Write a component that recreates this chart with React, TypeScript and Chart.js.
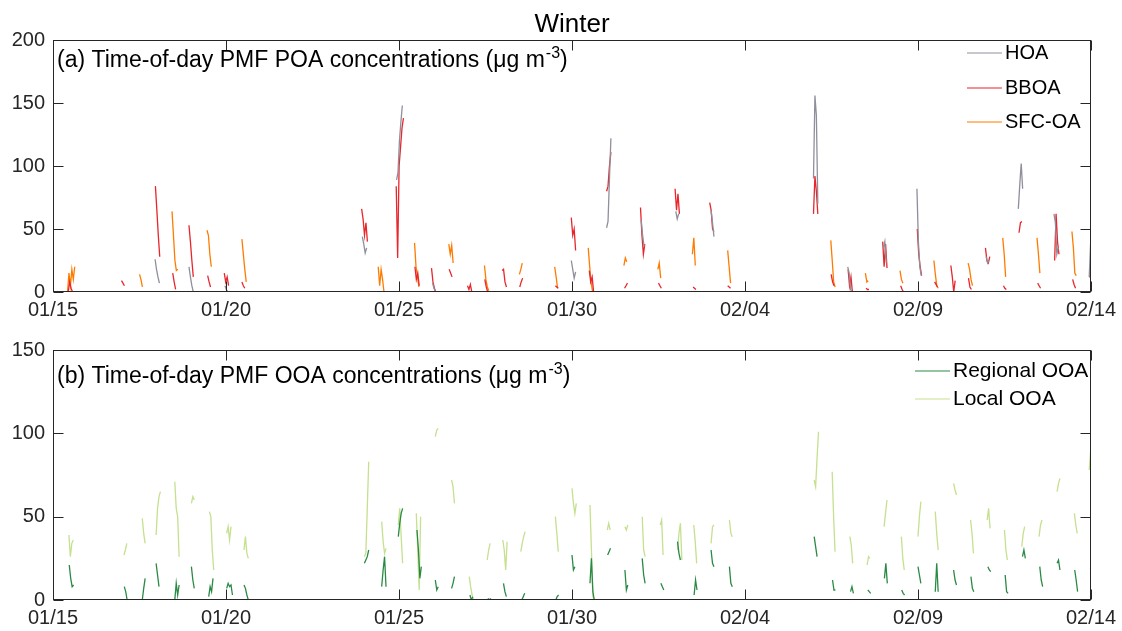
import { useEffect, useRef } from 'react';
import { Chart, registerables } from 'chart.js';

Chart.register(...registerables);

// x axis: days since 01/15, one tick every 5 days
const DATE_LABELS = ['01/15', '01/20', '01/25', '01/30', '02/04', '02/09', '02/14'];
const HOUR = 1 / 24;

// each segment: [start day, hourly values...]
const HOA = [
  [2.95, 26, 18, 12, 7], [3.93, 20, 12, 5, 0], [4.97, 5, 2, 0], [8.94, 44, 38, 31, 35],
  [9.93, 89, 95, 120, 135, 148], [10.97, 7, 3, 0], [14.98, 25, 18, 11, 16], [16.0, 51, 56, 90, 122],
  [17.0, 57, 45, 36], [18.0, 64, 58, 62], [19.02, 65, 55, 44], [21.98, 90, 156, 140, 70],
  [22.97, 20, 15, 2, 0], [24.0, 35, 40, 23], [24.97, 82, 40, 20, 13], [26.97, 28, 23, 25],
  [27.9, 66, 85, 102, 82], [28.93, 62, 55, 30, 35], [29.95, 12, 40],
];
const BBOA = [
  [0.44, 0, 8, 3, 0], [1.98, 9, 7, 5], [2.96, 84, 65, 45, 28], [3.46, 15, 8, 2], [3.93, 53, 40, 25, 12],
  [4.47, 13, 8, 4], [4.95, 15, 8, 12, 5], [5.46, 8, 5, 3], [8.92, 66, 58, 45, 55, 40],
  [9.92, 84, 27, 100, 115, 130, 138], [10.46, 20, 10, 15, 5], [10.94, 19, 8, 3, 0], [11.45, 18, 15, 12],
  [11.98, 5, 2, 6, 0], [12.48, 10, 4, 0], [12.98, 17, 18, 8, 4], [13.49, 4, 8, 11], [14.52, 5, 4, 3],
  [14.98, 59, 45, 50, 33], [15.5, 17, 8, 12, 0], [16.0, 80, 84, 100, 111], [16.52, 3, 5, 7],
  [16.98, 67, 45, 30, 38], [17.5, 7, 5, 3], [17.98, 82, 65, 78, 62], [18.5, 4, 3, 2],
  [18.98, 71, 65, 50, 48], [19.5, 5, 4, 3], [21.98, 62, 92, 80, 62], [22.49, 14, 8, 5],
  [22.98, 18, 5, 12, 0], [23.5, 3, 2, 2], [23.98, 40, 20, 38, 19], [24.5, 5, 2, 0],
  [24.98, 50, 30, 20, 13], [25.48, 8, 6, 4], [25.95, 21, 12, 0, 9], [26.46, 11, 4, 2],
  [26.95, 35, 25, 23, 28], [27.47, 5, 3, 2], [27.92, 47, 55, 56], [28.46, 7, 5, 3],
  [28.95, 25, 62, 40, 30], [29.47, 10, 6, 3], [29.95, 13, 11],
];
const SFC_OA = [
  [0.42, 0, 15, 5, 18, 10, 20], [2.5, 14, 10, 4], [3.44, 64, 45, 25, 17, 18], [4.45, 49, 45, 30, 20],
  [5.46, 42, 30, 18, 8], [9.4, 20, 5, 18, 10, 0], [10.45, 39, 20, 12, 4], [11.44, 38, 30, 37, 23],
  [12.47, 21, 10, 4, 1], [13.48, 14, 18, 23], [14.5, 20, 12, 3], [15.47, 35, 20, 8, 0],
  [16.5, 21, 27, 24], [17.48, 18, 23, 11], [18.48, 30, 43, 21], [19.5, 33, 20, 7],
  [22.48, 41, 25, 8, 4], [23.48, 15, 8, 9], [24.48, 17, 10, 7], [25.46, 25, 14, 5, 3],
  [26.45, 23, 18, 10, 5], [27.45, 43, 30, 12], [28.44, 43, 30, 15], [29.45, 48, 35, 15, 13],
];
const REGIONAL_OOA = [
  [0.47, 21, 13, 8, 9], [2.06, 8, 5, 0], [2.58, 0, 7, 13], [2.98, 22, 15, 8], [3.52, 0, 10, 3, 9],
  [4.0, 20, 12, 7], [4.5, 2, 8, 5, 13], [5.02, 7, 10, 8, 9, 3], [5.52, 9, 7, 3, 0], [9.0, 22, 24, 26, 30],
  [9.5, 8, 18, 26, 8], [9.98, 38, 46, 52, 55], [10.52, 42, 30, 13, 20], [11.05, 12, 6, 8],
  [11.52, 7, 10, 14], [12.05, 3, 0, 2], [12.57, 1, 0, 1], [13.02, 10, 5, 2], [13.55, 0, 2, 4],
  [14.53, 0, 2, 3], [15.0, 27, 18, 20], [15.52, 10, 25, 5, 0], [16.03, 27, 29, 31], [16.53, 18, 6, 9],
  [17.03, 25, 15, 10], [17.57, 10, 8, 6], [18.05, 35, 28, 24], [18.53, 3, 12, 6], [19.02, 30, 22, 20],
  [19.55, 20, 10, 8], [22.0, 38, 32, 26], [22.53, 12, 6, 6], [23.05, 5, 8, 4], [23.55, 6, 5, 4],
  [24.03, 13, 22, 10], [24.53, 6, 4, 3], [25.0, 20, 15, 10], [25.5, 5, 22, 5], [26.03, 18, 12, 9],
  [26.53, 14, 7, 5], [27.02, 20, 18, 17], [27.52, 15, 5, 4], [28.02, 26, 30, 25], [28.52, 20, 12, 8],
  [29.02, 22, 24, 18], [29.53, 18, 12, 5], [29.97, 19, 19],
];
const LOCAL_OOA = [
  [0.46, 39, 26, 34, 36], [2.05, 27, 30, 34], [2.58, 49, 40, 34], [2.98, 39, 55, 62, 65],
  [3.52, 71, 55, 50, 26], [4.0, 58, 62, 60], [4.52, 53, 50, 30, 18], [5.02, 40, 44, 36, 44],
  [5.52, 30, 38, 28, 25], [9.0, 26, 28, 55, 83], [9.5, 47, 35, 28, 31], [9.98, 45, 55, 38, 22],
  [10.5, 52, 30, 6, 50], [11.05, 98, 102, 103], [11.52, 72, 68, 58], [12.03, 14, 8, 3, 0],
  [12.55, 24, 30, 34], [13.0, 36, 30, 18, 35], [13.52, 29, 34, 38, 41], [14.52, 50, 40, 29],
  [15.0, 67, 58, 52, 58], [15.52, 57, 30, 2, 0], [16.02, 42, 46, 42], [16.53, 44, 42, 45],
  [17.03, 50, 30, 26], [17.55, 45, 48, 27], [18.05, 30, 40, 46, 24], [18.52, 45, 35, 22],
  [19.02, 34, 44, 45], [19.55, 48, 40, 38], [22.0, 72, 68, 85, 101], [22.52, 77, 50, 29],
  [23.03, 38, 33, 22], [23.53, 21, 26, 25], [24.02, 44, 52, 60], [24.52, 38, 25, 18],
  [25.0, 38, 50, 59], [25.5, 53, 40, 30], [26.03, 70, 66, 63], [26.52, 48, 40, 28],
  [27.0, 48, 55, 43], [27.5, 42, 30, 24], [28.0, 32, 40, 44], [28.5, 38, 45, 48],
  [29.02, 65, 70, 73], [29.52, 52, 45, 40], [29.95, 78, 90],
];

const FONT = '"Liberation Sans", Arial, sans-serif';
const INK = '#262626';

function toPoints(segs: number[][]) {
  const pts: { x: number; y: number | null }[] = [];
  segs.forEach(([start, ...vals]) => {
    vals.forEach((v, i) => pts.push({ x: start + i * HOUR, y: v }));
    pts.push({ x: start + vals.length * HOUR, y: null });
  });
  return pts;
}

// box, inward ticks on all four sides, panel label, legend
const framePlugin = {
  id: 'frame',
  afterDraw(chart: any, _a: any, o: any) {
    const { ctx, chartArea: a, scales } = chart;
    const L = Math.round(a.left) + 0.5, R = Math.round(a.right) - 0.5;
    const T = Math.round(a.top) + 0.5, B = Math.round(a.bottom) - 0.5;
    const TL = 10;
    ctx.save();
    ctx.strokeStyle = INK; ctx.lineWidth = 1;
    ctx.strokeRect(L, T, R - L, B - T);
    ctx.beginPath();
    scales.x.ticks.forEach((t: any) => {
      const px = Math.round(scales.x.getPixelForValue(t.value)) + 0.5;
      ctx.moveTo(px, B); ctx.lineTo(px, B - TL);
      ctx.moveTo(px, T); ctx.lineTo(px, T + TL);
    });
    scales.y.ticks.forEach((t: any) => {
      const py = Math.round(scales.y.getPixelForValue(t.value)) + 0.5;
      ctx.moveTo(L, py); ctx.lineTo(L + TL, py);
      ctx.moveTo(R, py); ctx.lineTo(R - TL, py);
    });
    ctx.stroke();

    // panel label with superscript unit
    ctx.fillStyle = '#000';
    ctx.textBaseline = 'alphabetic';
    ctx.textAlign = 'left';
    ctx.font = `23px ${FONT}`;
    const lx = a.left + 4, ly = a.top + o.labelDy;
    ctx.fillText(o.label, lx, ly);
    let w = ctx.measureText(o.label).width + 1;
    ctx.font = `16px ${FONT}`;
    ctx.fillText('-3', lx + w, ly - 9);
    w += ctx.measureText('-3').width;
    ctx.font = `23px ${FONT}`;
    ctx.fillText(')', lx + w, ly);

    // legend
    ctx.font = `${o.legendFont}px ${FONT}`;
    ctx.textBaseline = 'middle';
    chart.data.datasets.forEach((ds: any, i: number) => {
      const y = a.top + o.legendRows[i];
      ctx.strokeStyle = ds.borderColor; ctx.lineWidth = 1.2;
      ctx.beginPath();
      ctx.moveTo(a.right - o.legendX, y); ctx.lineTo(a.right - o.legendX + 35, y);
      ctx.stroke();
      ctx.fillStyle = '#000';
      ctx.fillText(ds.label, a.right - o.legendX + 38, y);
    });

    if (o.title) {
      ctx.font = `26px ${FONT}`;
      ctx.textAlign = 'center';
      ctx.textBaseline = 'alphabetic';
      ctx.fillText(o.title, (a.left + a.right) / 2, 32);
    }
    ctx.restore();
  },
};

interface PanelProps {
  height: number;
  padTop: number;
  axisH: number;
  yMax: number;
  series: { label: string; color: string; segs: number[][] }[];
  frame: any;
}

function Panel({ height, padTop, axisH, yMax, series, frame }: PanelProps) {
  const ref = useRef<HTMLCanvasElement>(null);
  const ci = useRef<Chart | null>(null);

  useEffect(() => {
    if (!ref.current) return;
    ci.current?.destroy();
    ci.current = new Chart(ref.current, {
      type: 'line',
      data: {
        datasets: series.map(s => ({
          label: s.label,
          data: toPoints(s.segs),
          borderColor: s.color,
          backgroundColor: s.color,
          borderWidth: 1.3,
          pointRadius: 0,
          tension: 0,
          spanGaps: false,
        })),
      },
      options: {
        responsive: false,
        animation: false,
        layout: { padding: { top: padTop, right: 31, left: 0, bottom: 0 } },
        plugins: { legend: { display: false }, tooltip: { enabled: false }, frame } as any,
        scales: {
          x: {
            type: 'linear', min: 0, max: 30,
            grid: { display: false, drawTicks: false },
            border: { display: false },
            afterFit: (s: any) => { s.height = axisH; },
            ticks: {
              stepSize: 5, padding: 6, color: INK, font: { family: FONT, size: 20 },
              maxRotation: 0, autoSkip: false,
              callback: (v: any) => DATE_LABELS[Math.round(Number(v) / 5)] ?? '',
            },
          },
          y: {
            min: 0, max: yMax,
            grid: { display: false, drawTicks: false },
            border: { display: false },
            afterFit: (s: any) => { s.width = 53; },
            ticks: { stepSize: 50, padding: 8, color: INK, font: { family: FONT, size: 20 } },
          },
        },
      },
      plugins: [framePlugin],
    });
    return () => { ci.current?.destroy(); ci.current = null; };
  }, [height, padTop, axisH, yMax, series, frame]);

  return <canvas ref={ref} width={1122} height={height} style={{ display: 'block' }} />;
}

const POA_SERIES = [
  { label: 'HOA', color: '#8f8f9c', segs: HOA },
  { label: 'BBOA', color: '#e8262b', segs: BBOA },
  { label: 'SFC-OA', color: '#ff7b00', segs: SFC_OA },
];
const OOA_SERIES = [
  { label: 'Regional OOA', color: '#2a8a45', segs: REGIONAL_OOA },
  { label: 'Local OOA', color: '#c5e08f', segs: LOCAL_OOA },
];
const FRAME_A = {
  title: 'Winter', label: '(a) Time-of-day PMF POA concentrations (\u03bcg m', labelDy: 27,
  legendX: 124, legendRows: [13, 48, 82], legendFont: 20,
};
const FRAME_B = {
  label: '(b) Time-of-day PMF OOA concentrations (\u03bcg m', labelDy: 33,
  legendX: 176, legendRows: [21, 49], legendFont: 21,
};

export default function App() {
  useEffect(() => { document.body.style.margin = '0'; }, []);
  return (
    <div style={{ width: 1122, height: 631, background: '#fff' }}>
      <Panel height={330} padTop={40} axisH={38} yMax={200} series={POA_SERIES} frame={FRAME_A} />
      <Panel height={301} padTop={19} axisH={31} yMax={150} series={OOA_SERIES} frame={FRAME_B} />
    </div>
  );
}
